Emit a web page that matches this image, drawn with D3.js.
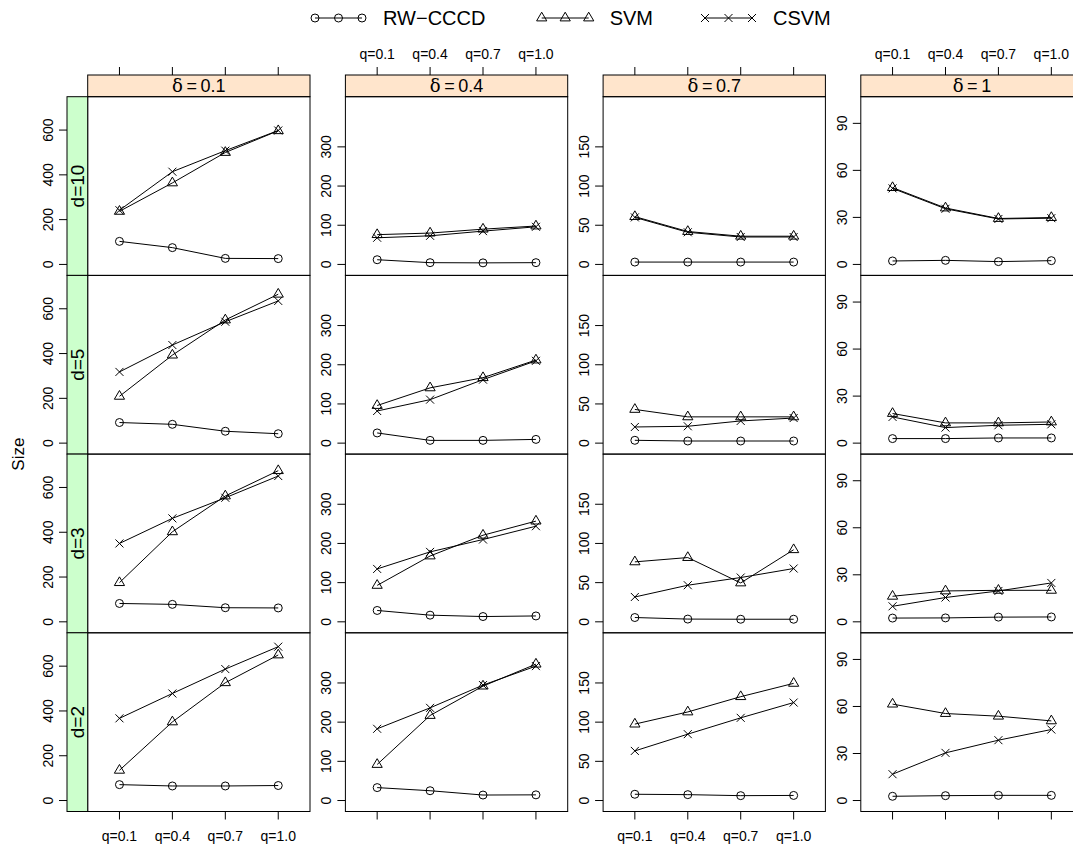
<!DOCTYPE html>
<html>
<head>
<meta charset="utf-8">
<script src="https://cdn.jsdelivr.net/npm/d3@7"></script>
<style>
  body { margin: 0; background: #fff; }
  svg text { font-family: 'Liberation Sans', Arial, Helvetica, sans-serif; fill: #000; }
</style>
</head>
<body>
<div id="chart"></div>
<script>
// conditioning levels
const deltas = ['0.1', '0.4', '0.7', '1'];
const dims = ['d=10', 'd=5', 'd=3', 'd=2'];
const qLabels = ['q=0.1', 'q=0.4', 'q=0.7', 'q=1.0'];
const methods = ['RW\u2212CCCD', 'SVM', 'CSVM'];
const yTicks = [[0, 200, 400, 600], [0, 100, 200, 300], [0, 50, 100, 150], [0, 30, 60, 90]];
const yMax = [700, 400, 200, 100];

// values[d row][delta column][q]
const rwcccd = [
  [[103, 75, 27, 26], [12, 4.5, 4, 4.5], [3, 3, 3, 3], [2.2, 2.6, 1.8, 2.4]],
  [[92, 84, 53, 42], [26, 7, 7, 9.5], [3.6, 2.7, 2.7, 2.7], [2.9, 2.9, 3.3, 3.3]],
  [[82, 78, 63, 62], [29, 17, 13.5, 15], [5.5, 3.5, 3.3, 3.3], [2.4, 2.5, 3, 3.1]],
  [[71, 65, 65, 67], [33, 25, 14, 14.5], [8, 7.5, 6.2, 6.5], [2.7, 3.1, 3.3, 3.3]]
];
const svm = [
  [[237, 364, 500, 597], [76, 80, 90, 98], [61, 42, 36, 36], [49, 36, 29.3, 29.9]],
  [[209, 393, 550, 665], [96, 141, 167, 212], [43, 33.5, 33.5, 33.5], [18.9, 12.9, 12.9, 13.5]],
  [[175, 402, 562, 675], [93, 168, 221, 257], [76.5, 82, 49.6, 92], [16.3, 19.7, 20.1, 20.1]],
  [[135, 351, 526, 650], [92, 217, 292, 348], [97.5, 113, 132.5, 149.5], [61.5, 55.5, 53.8, 50.8]]
];
const csvm = [
  [[242, 414, 508, 598], [68, 73, 85, 96], [60, 41, 35, 35], [48.5, 35.5, 29, 29.5]],
  [[318, 438, 542, 635], [82, 111, 162, 210], [20.6, 21.5, 28.3, 32], [16.7, 9.9, 11.4, 12]],
  [[350, 462, 554, 651], [135, 178.5, 210, 244], [31.7, 46.7, 56.5, 68], [9.9, 15.5, 19.7, 24.8]],
  [[367, 478, 587, 687], [183, 236.5, 294.6, 343], [63.3, 84.7, 105.5, 125], [16.8, 30.4, 38.5, 45.3]]
];

(function() {

  const width = 1073, height = 844;
  const colLeft0 = 87.7, colStep = 257.7, panelW = 222.3;
  const rowTop0 = 96.7, panelH = 178.7;
  const stripTop = 75, stripH = 21.7;
  const sideStripW = 20.7;
  const tickLen = 8;
  const series = [
    { name: methods[0], values: rwcccd, shape: 'circle' },
    { name: methods[1], values: svm, shape: 'triangle' },
    { name: methods[2], values: csvm, shape: 'cross' }
  ];

  let svg = d3.select('#chart')
    .append('svg:svg')
    .attr('width', width)
    .attr('height', height);

  renderLegend();
  deltas.forEach((delta, col) => {
    let x = xScale(col);
    renderStrip(col, delta);
    renderXAxes(col, x);
    dims.forEach((dim, row) => {
      renderPanel(col, row, x, yScale(col, row));
    });
  });
  renderSideStrips();

  svg.append('text')
    .attr('transform', `translate(18,${rowTop0 + 2 * panelH}) rotate(-90)`)
    .attr('text-anchor', 'middle')
    .attr('dy', '0.35em')
    .style('font-size', '17px')
    .text('Size');

  function xScale(col) {
    let left = colLeft0 + col * colStep;
    return d3.scaleLinear().domain([0.4, 4.6]).range([left, left + panelW]);
  }

  function yScale(col, row) {
    let top = rowTop0 + row * panelH;
    let m = yMax[col];
    return d3.scaleLinear().domain([-0.07 * m, 1.07 * m]).range([top + panelH, top]);
  }

  function drawSymbol(g, shape, cx, cy) {
    if (shape === 'circle') {
      g.append('circle')
        .attr('cx', cx).attr('cy', cy).attr('r', 4)
        .attr('fill', 'none').attr('stroke', '#000').attr('stroke-width', 1);
    } else if (shape === 'triangle') {
      g.append('path')
        .attr('d', `M${cx},${cy - 5.8}L${cx + 5.1},${cy + 2.9}L${cx - 5.1},${cy + 2.9}Z`)
        .attr('fill', 'none').attr('stroke', '#000').attr('stroke-width', 1);
    } else {
      let h = 4;
      g.append('path')
        .attr('d', `M${cx - h},${cy - h}L${cx + h},${cy + h}M${cx - h},${cy + h}L${cx + h},${cy - h}`)
        .attr('fill', 'none').attr('stroke', '#000').attr('stroke-width', 1);
    }
  }

  function renderLegend() {
    let starts = [315, 541.7, 705];
    let g = svg.append('g').attr('class', 'legend');
    series.forEach((s, i) => {
      let xs = [0, 1, 2].map(k => starts[i] + k * 23.5);
      g.append('line')
        .attr('x1', xs[0]).attr('x2', xs[2])
        .attr('y1', 18).attr('y2', 18)
        .attr('stroke', '#000');
      xs.forEach(x => drawSymbol(g, s.shape, x, 18));
      g.append('text')
        .attr('x', xs[2] + 21)
        .attr('y', 25)
        .style('font-size', '20px')
        .text(s.name);
    });
  }

  function renderStrip(col, delta) {
    let left = colLeft0 + col * colStep;
    svg.append('rect')
      .attr('x', left).attr('y', stripTop)
      .attr('width', panelW).attr('height', stripH)
      .attr('fill', '#ffe5cc').attr('stroke', '#000');
    let t = svg.append('text')
      .attr('x', left + panelW / 2)
      .attr('y', stripTop + stripH / 2 + 6.5)
      .attr('text-anchor', 'middle')
      .style('font-size', '18px');
    t.append('tspan').style('font-family', "'DejaVu Serif', serif").text('\u03b4');
    t.append('tspan').text('\u2009=\u2009' + delta);
  }

  function renderXAxes(col, x) {
    let g = svg.append('g');
    let bottom = rowTop0 + dims.length * panelH;
    qLabels.forEach((q, i) => {
      let px = x(i + 1);
      g.append('line')
        .attr('x1', px).attr('x2', px)
        .attr('y1', stripTop - tickLen).attr('y2', stripTop)
        .attr('stroke', '#000');
      g.append('line')
        .attr('x1', px).attr('x2', px)
        .attr('y1', bottom).attr('y2', bottom + tickLen)
        .attr('stroke', '#000');
      // labels alternate: bottom for odd columns, top for even ones
      g.append('text')
        .attr('x', px)
        .attr('y', col % 2 === 0 ? bottom + 29 : stripTop - 16)
        .attr('text-anchor', 'middle')
        .style('font-size', '14px')
        .text(q);
    });
  }

  function renderPanel(col, row, x, y) {
    let left = colLeft0 + col * colStep;
    let top = rowTop0 + row * panelH;
    let g = svg.append('g').attr('class', 'panel');

    // y axis on the left of each panel
    let tickRight = col === 0 ? left - sideStripW : left;
    yTicks[col].forEach(v => {
      g.append('line')
        .attr('x1', tickRight - tickLen).attr('x2', tickRight)
        .attr('y1', y(v)).attr('y2', y(v))
        .attr('stroke', '#000');
      g.append('text')
        .attr('transform', `translate(${tickRight - tickLen - 11},${y(v)}) rotate(-90)`)
        .attr('text-anchor', 'middle')
        .attr('dy', '0.35em')
        .style('font-size', '14px')
        .text(v);
    });

    g.append('rect')
      .attr('x', left).attr('y', top)
      .attr('width', panelW).attr('height', panelH)
      .attr('fill', 'none').attr('stroke', '#000');

    let line = d3.line()
      .x((d, i) => x(i + 1))
      .y(d => y(d));

    series.forEach(s => {
      let vals = s.values[row][col];
      g.append('path')
        .attr('d', line(vals))
        .attr('fill', 'none')
        .attr('stroke', '#000')
        .attr('stroke-width', 1);
      vals.forEach((v, i) => drawSymbol(g, s.shape, x(i + 1), y(v)));
    });
  }

  function renderSideStrips() {
    let left = colLeft0 - sideStripW;
    dims.forEach((dim, row) => {
      let top = rowTop0 + row * panelH;
      svg.append('rect')
        .attr('x', left).attr('y', top)
        .attr('width', sideStripW).attr('height', panelH)
        .attr('fill', '#ccffcc').attr('stroke', '#000');
      svg.append('text')
        .attr('transform', `translate(${left + sideStripW / 2},${top + panelH / 2}) rotate(-90)`)
        .attr('text-anchor', 'middle')
        .attr('dy', '0.35em')
        .style('font-size', '19px')
        .text(dim);
    });
  }

})();
</script>
</body>
</html>
